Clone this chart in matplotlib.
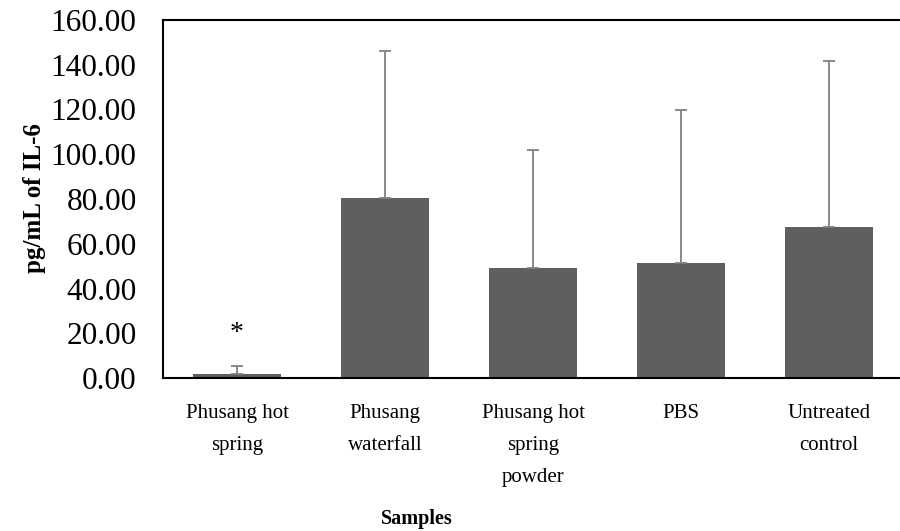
import matplotlib
matplotlib.use("Agg")
import matplotlib.pyplot as plt

categories = ["Phusang hot\nspring", "Phusang\nwaterfall", "Phusang hot\nspring\npowder", "PBS", "Untreated\ncontrol"]
values = [1.6, 80.4, 49.2, 51.4, 67.5]
errors = [3.8, 65.7, 52.7, 68.4, 74.2]
yticks = [0, 20, 40, 60, 80, 100, 120, 140, 160]

plt.rcParams['font.family'] = ['Liberation Serif', 'DejaVu Serif']

fig = plt.figure(figsize=(9, 5.31), dpi=100)
ax = fig.add_axes([163/900, 1-378/531, 740/900, 358/531])

x = list(range(len(categories)))
ax.bar(x, values, width=0.6, color="#5f5f5f", zorder=2)
ax.errorbar(x, values, yerr=[[0]*len(values), errors], fmt="none",
            ecolor="#808080", elinewidth=1.3, capsize=4.5, capthick=1.3, zorder=3)
ax.text(0, 20.0, "*", ha="center", va="center", fontsize=20)

ax.set_xlim(-0.5, len(categories)-0.5)
ax.set_ylim(0, 160)
ax.set_yticks(yticks)
ax.set_yticklabels([f"{v:.2f}" for v in yticks], fontsize=22.5)
ax.set_xticks(x)
ax.set_xticklabels(categories, fontsize=15, linespacing=1.9, va="top")
ax.tick_params(axis="both", length=0)
ax.tick_params(axis="x", pad=19)
ax.tick_params(axis="y", pad=19)
for s in ["top", "left", "bottom"]:
    ax.spines[s].set_linewidth(1.5)
    ax.spines[s].set_color("black")
ax.spines["right"].set_visible(False)

fig.text(35/900, 1-198/531, "pg/mL of IL-6", rotation=90, ha="center", va="center",
         fontsize=18, fontweight="bold")
fig.text(417/900, 1-519/531, "Samples", ha="center", va="center", fontsize=14.5, fontweight="bold")

fig.savefig("out.png", dpi=100)
